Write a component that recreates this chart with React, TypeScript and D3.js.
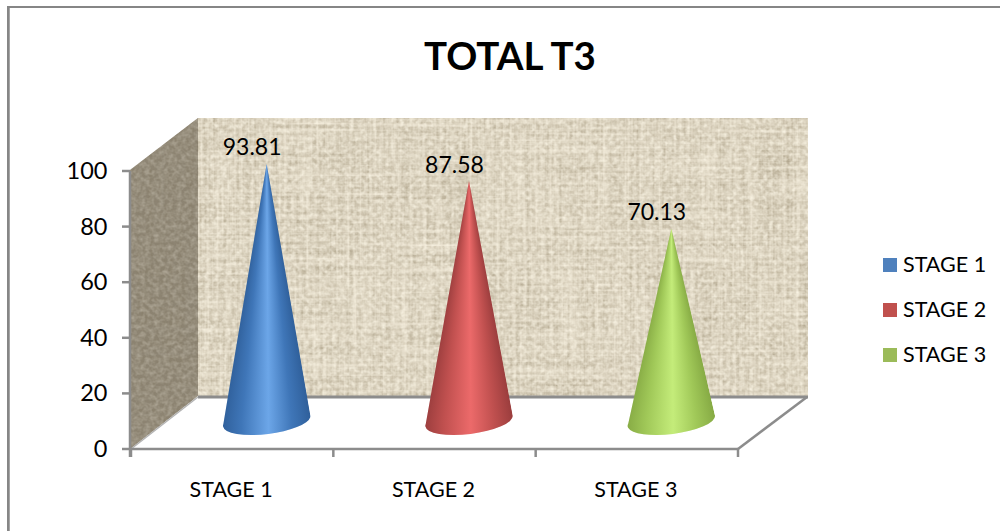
import React from "react";
import * as d3 from "d3";

const categories = ["STAGE 1", "STAGE 2", "STAGE 3"];
const values = [93.81, 87.58, 70.13];
const yTicks = [0, 20, 40, 60, 80, 100];
const swatchColors = ["#4f81bd", "#c0504d", "#9bbb59"];
// Shading stops for each cone: edge, body, highlight
const coneShades = [
  ["#2f5f9a", "#3f76b8", "#6ca6e8"],
  ["#9a3d3d", "#c0504f", "#ec6a6a"],
  ["#86aa44", "#a0c858", "#c4ec7a"],
];

const FONT = "Lato, 'Open Sans', sans-serif";
const AXIS = "#8c8c8c";

const y = d3.scaleLinear().domain([0, 100]).range([449, 171]);
const x = d3.scaleBand<string>().domain(categories).range([131, 738]);
// Cones stand on the raised floor, so they have their own vertical scale
const yCone = d3.scaleLinear().domain([0, 100]).range([421, 147]);
const DEPTH_X = 68;
const CONE_RX = 44;
const CONE_RY = 13;
const TILT_DEG = -7;

function Cone({ id, cx, value, shades }: { id: string; cx: number; value: number; shades: string[] }) {
  const cy = yCone(0);
  const apexY = yCone(value);
  const tilt = (TILT_DEG * Math.PI) / 180;
  const lx = cx - CONE_RX * Math.cos(tilt);
  const ly = cy - CONE_RX * Math.sin(tilt);
  const rx = cx + CONE_RX * Math.cos(tilt);
  const ry = cy + CONE_RX * Math.sin(tilt);
  // One-pixel rows whose width follows the taper; each row carries the same horizontal shading
  const rows = d3.range(Math.floor(apexY), Math.ceil(cy + CONE_RY + 3));
  const halfWidth = d3.scaleLinear().domain([apexY, cy]).range([0, CONE_RX]).clamp(true);
  return (
    <g>
      <defs>
        <linearGradient id={`${id}-shade`} x1="0" x2="1" y1="0" y2="0">
          <stop offset="0" stopColor={shades[0]} />
          <stop offset="0.22" stopColor={shades[1]} />
          <stop offset="0.52" stopColor={shades[2]} />
          <stop offset="0.78" stopColor={shades[1]} />
          <stop offset="1" stopColor={shades[0]} />
        </linearGradient>
        <clipPath id={`${id}-clip`}>
          <polygon points={`${cx},${apexY} ${lx},${ly} ${rx},${ry}`} />
          <ellipse cx={cx} cy={cy} rx={CONE_RX} ry={CONE_RY} transform={`rotate(${TILT_DEG} ${cx} ${cy})`} />
        </clipPath>
      </defs>
      <g clipPath={`url(#${id}-clip)`}>
        {rows.map((r) => {
          const w = Math.max(1, halfWidth(r));
          return <rect key={r} x={cx - w - 1} y={r} width={2 * w + 2} height={1.2} fill={`url(#${id}-shade)`} />;
        })}
      </g>
    </g>
  );
}

export default function App() {
  const wallLeft = x.range()[0] + DEPTH_X - 1;
  const wallRight = x.range()[1] + DEPTH_X + 2;
  const wallTop = 118;
  const wallBottom = 396;
  return (
    <svg
      width={1000}
      height={531}
      viewBox="0 0 1000 531"
      style={{ position: "absolute", left: 0, top: 0, background: "#fff" }}
      fontFamily={FONT}
    >
      <defs>
        {/* Woven canvas: crossed streak noise over a flat tan */}
        <filter id="canvas" x="0" y="0" width="100%" height="100%" colorInterpolationFilters="sRGB">
          <feTurbulence type="fractalNoise" baseFrequency="0.008 0.3" numOctaves={2} seed={4} result="h" />
          <feTurbulence type="fractalNoise" baseFrequency="0.3 0.008" numOctaves={2} seed={9} result="v" />
          <feBlend in="h" in2="v" mode="multiply" result="mix" />
          <feColorMatrix
            in="mix"
            type="matrix"
            values="0 0 0 0 0.56  0 0 0 0 0.51  0 0 0 0 0.4  0.95 0 0 0 -0.13"
            result="dark"
          />
          <feTurbulence type="fractalNoise" baseFrequency="0.22 0.24" numOctaves={2} seed={21} />
          <feColorMatrix
            type="matrix"
            values="0 0 0 0 1  0 0 0 0 0.98  0 0 0 0 0.92  0 1.3 0 0 -0.42"
            result="light"
          />
          <feMerge result="weave">
            <feMergeNode in="SourceGraphic" />
            <feMergeNode in="dark" />
            <feMergeNode in="light" />
          </feMerge>
          <feGaussianBlur in="weave" stdDeviation="0.6" />
        </filter>
        <clipPath id="sideClip">
          <polygon
            points={`${x.range()[0] - 1},${y(100) - 1} ${wallLeft},${wallTop} ${wallLeft},${wallBottom} ${x.range()[0] - 1},${y(0)}`}
          />
        </clipPath>
      </defs>

      {/* Outer frame: only the top and left edges are drawn */}
      <rect x={7} y={6} width={993} height={2} fill="#868686" />
      <rect x={7} y={6} width={2} height={525} fill="#868686" />
      <rect x={9} y={8} width={1} height={523} fill="#a6a6a6" />

      <text x={510} y={70} textAnchor="middle" fontSize={38.5} fontWeight={700} fill="#000">
        TOTAL T3
      </text>

      {/* Back wall */}
      <rect
        x={wallLeft}
        y={wallTop}
        width={wallRight - wallLeft}
        height={wallBottom - wallTop}
        fill="#ebe3d1"
        filter="url(#canvas)"
      />
      {/* Side wall */}
      <g clipPath="url(#sideClip)">
        <rect x={120} y={110} width={85} height={345} fill="#a39c8b" filter="url(#canvas)" />
        <rect x={120} y={110} width={85} height={345} fill="#7d7564" opacity={0.55} />
      </g>

      {/* Floor edges */}
      <line x1={wallLeft} x2={wallRight} y1={397} y2={397} stroke={AXIS} strokeWidth={3} />
      <line x1={x.range()[0]} y1={y(0)} x2={wallLeft} y2={397} stroke="#b4b4b4" strokeWidth={1.5} />
      <line x1={x.range()[1]} y1={y(0)} x2={x.range()[1] + DEPTH_X + 1} y2={397} stroke={AXIS} strokeWidth={2.5} />

      {/* Value axis */}
      <line x1={130} x2={130} y1={y(100)} y2={y(0) + 8} stroke={AXIS} strokeWidth={2.5} />
      {yTicks.map((t) => (
        <g key={t}>
          <line x1={122} x2={130} y1={y(t)} y2={y(t)} stroke={AXIS} strokeWidth={2.5} />
          <text x={107.5} y={y(t) + 8} textAnchor="end" fontSize={23.5} fill="#000">
            {t}
          </text>
        </g>
      ))}

      {/* Category axis */}
      <line x1={x.range()[0] - 1} x2={x.range()[1]} y1={y(0)} y2={y(0)} stroke={AXIS} strokeWidth={2.5} />
      {[...categories.map((c) => x(c)!), x.range()[1]].map((px, i) => (
        <line key={i} x1={px} x2={px} y1={y(0)} y2={y(0) + 8} stroke={AXIS} strokeWidth={2.5} />
      ))}
      {categories.map((c) => (
        <text key={c} x={x(c)! + x.bandwidth() / 2 - 1} y={497} textAnchor="middle" fontSize={21.5} fill="#000">
          {c}
        </text>
      ))}

      {/* Cones and their value labels */}
      {categories.map((c, i) => (
        <Cone
          key={c}
          id={`cone-${i}`}
          cx={x(c)! + x.bandwidth() / 2 + 34.5}
          value={values[i]}
          shades={coneShades[i]}
        />
      ))}
      {categories.map((c, i) => (
        <text
          key={c}
          x={x(c)! + x.bandwidth() / 2 + 20}
          y={yCone(values[i]) - 8.5}
          textAnchor="middle"
          fontSize={23}
          fill="#000"
        >
          {values[i].toFixed(2)}
        </text>
      ))}

      {/* Legend */}
      {categories.map((c, i) => (
        <g key={c} transform={`translate(883,${258 + i * 45})`}>
          <rect width={14} height={14} fill={swatchColors[i]} />
          <text x={20} y={14} fontSize={21.5} fill="#000">
            {c}
          </text>
        </g>
      ))}
    </svg>
  );
}
